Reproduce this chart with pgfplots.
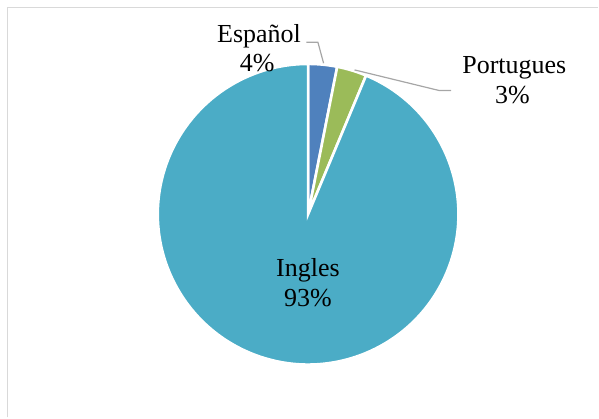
\documentclass[border=0pt]{standalone}
\usepackage{pgfplots}
\pgfplotsset{compat=1.18}
\usepackage{pgfplotstable}
\usepackage{fontspec}
\setmainfont{Liberation Serif}
\definecolor{cEsp}{HTML}{4F81BD}
\definecolor{cPor}{HTML}{9BBB59}
\definecolor{cIng}{HTML}{4BACC6}
\definecolor{frame}{HTML}{D9D9D9}
\definecolor{leader}{HTML}{A6A6A6}

\pgfplotstableread{
lang value
Espanol 3.1
Portugues 3.2
Ingles 93.7
}\piedata
\pgfplotstablegetelem{0}{value}\of\piedata \let\vA\pgfplotsretval
\pgfplotstablegetelem{1}{value}\of\piedata \let\vB\pgfplotsretval
\pgfplotstablegetelem{2}{value}\of\piedata \let\vC\pgfplotsretval
\pgfmathsetmacro\aA{90}
\pgfmathsetmacro\aB{\aA-\vA*3.6}
\pgfmathsetmacro\aC{\aB-\vB*3.6}
\pgfmathsetmacro\aD{\aC-\vC*3.6}

\begin{document}
\begin{tikzpicture}
\begin{axis}[
  scale only axis, width=599bp, height=418bp,
  xmin=0, xmax=599, ymin=0, ymax=418, y dir=reverse,
  hide axis, clip=false,
]
\path (axis cs:0,0) rectangle (axis cs:599,418);
% frame (top and left visible)
\draw[frame, line width=1.5bp] (axis cs:7.5,418) -- (axis cs:7.5,7.5) -- (axis cs:599,7.5);
% slices
\filldraw[fill=cEsp, draw=white, line width=2.6bp] (axis cs:308.5,214.5) -- ++(\aA:150.5bp) arc[start angle=\aA, end angle=\aB, radius=150.5bp] -- cycle;
\filldraw[fill=cPor, draw=white, line width=2.6bp] (axis cs:308.5,214.5) -- ++(\aB:150.5bp) arc[start angle=\aB, end angle=\aC, radius=150.5bp] -- cycle;
\filldraw[fill=cIng, draw=white, line width=2.6bp] (axis cs:308.5,214.5) -- ++(\aC:150.5bp) arc[start angle=\aC, end angle=\aD, radius=150.5bp] -- cycle;
% leader lines
\draw[leader, line width=1.2bp] (axis cs:306.7,42.3) -- (axis cs:318.3,42.3) -- (axis cs:324,63.3);
\draw[leader, line width=1.2bp] (axis cs:355,70) -- (axis cs:440,90.7) -- (axis cs:451.7,90.7);
% labels
\begin{scope}[every node/.style={font=\fontsize{26bp}{30bp}\selectfont, inner sep=0pt, anchor=base}]
\node at (axis cs:259.3,43) {Español};
\node at (axis cs:257.5,71.7) {4\%};
\node at (axis cs:515,73.3) {Portugues};
\node at (axis cs:513,103.3) {3\%};
\node at (axis cs:308.3,277.3) {Ingles};
\node at (axis cs:308.3,306.7) {93\%};
\end{scope}
\end{axis}
\end{tikzpicture}
\end{document}
